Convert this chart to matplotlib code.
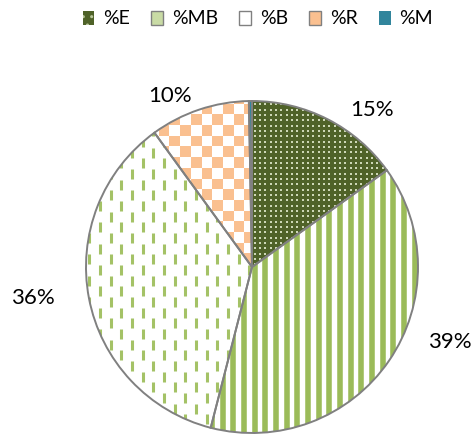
import matplotlib
matplotlib.use('Agg')
import matplotlib.pyplot as plt
import numpy as np
from matplotlib.collections import LineCollection
from matplotlib.colors import ListedColormap
from matplotlib.patches import Patch

# data (share of each class, %)
names = ['%E', '%MB', '%B', '%R', '%M']
values = [15.1, 38.9, 36.0, 9.7, 0.3]
# where Excel put the data labels (pixel coords of the reference, y down)
label_pos = [(372, 110), (450, 342), (33, 298), (170, 96), None]

W, H = 474, 434
cx, cy, rad = 252, H - 267, 166
unit = 32.0 / 3.0  # pattern cell size in pixels

matplotlib.rcParams['font.family'] = ['Lato', 'DejaVu Sans']

fig = plt.figure(figsize=(W / 100.0, H / 100.0), dpi=100)
ax = fig.add_axes([0, 0, 1, 1])

base_colors = ['#4f6228', 'white', 'white', 'white', '#31859c']
wedges, _ = ax.pie(values, colors=base_colors, startangle=90, counterclock=False,
                   center=(cx, cy), radius=rad, wedgeprops=dict(linewidth=0))

x0, x1 = cx - rad - 2, cx + rad + 2
y0, y1 = cy - rad - 2, cy + rad + 2

# %E : dark olive with light dots
gx, gy = np.meshgrid(np.arange(x0, x1, unit / 2), np.arange(y0, y1, unit / 2))
dots = ax.scatter(gx.ravel(), gy.ravel(), s=3.4, marker='s', color='#cdd7b6',
                  linewidths=0, zorder=2)
dots.set_clip_path(wedges[0])

# %MB : wide vertical stripes
xs = np.arange(x0, x1, unit)
segs = [[(x, y0), (x, y1)] for x in xs]
stripes = LineCollection(segs, colors='#9bbb59', linewidths=4.0, zorder=2)
ax.add_collection(stripes)
stripes.set_clip_path(wedges[1])

# %B : dashed vertical lines on white, columns offset by half a period
dash_segs = []
for i, x in enumerate(np.arange(x0, x1, unit)):
    start = y0 + (i % 2) * unit
    for y in np.arange(start, y1, 2 * unit):
        dash_segs.append([(x + unit / 2, y), (x + unit / 2, y + 10)])
dashes = LineCollection(dash_segs, colors='#a4c266', linewidths=2.2, zorder=2)
ax.add_collection(dashes)
dashes.set_clip_path(wedges[2])

# %R : peach checkerboard
ncol = int((x1 - x0) / unit) + 1
nrow = int((y1 - y0) / unit) + 1
ii, jj = np.indices((nrow, ncol))
board = (ii + jj) % 2
img = ax.imshow(board, cmap=ListedColormap(['white', '#fac090']), interpolation='nearest',
                extent=(x0, x0 + ncol * unit, y0, y0 + nrow * unit), origin='lower', zorder=2)
img.set_clip_path(wedges[3])

# outlines on top
edges, _ = ax.pie(values, colors=['none'] * len(values), startangle=90, counterclock=False,
                  center=(cx, cy), radius=rad,
                  wedgeprops=dict(linewidth=1.4, edgecolor='#808080'))
for e in edges:
    e.set_zorder(3)
    e.set_facecolor('none')

for pos, v in zip(label_pos, values):
    if pos is None:
        continue
    ax.text(pos[0], H - pos[1], '{:.0f}%'.format(v), ha='center', va='center',
            fontsize=16, color='black', zorder=4)

ax.set_xlim(0, W)
ax.set_ylim(0, H)
ax.set_aspect('equal')
ax.axis('off')

handles = [
    Patch(facecolor='#4f6228', edgecolor='#b9c79a', hatch='..', linewidth=0),
    Patch(facecolor='#c9dba5', edgecolor='#808080', linewidth=1.0),
    Patch(facecolor='white', edgecolor='#808080', linewidth=1.0),
    Patch(facecolor='#fac090', edgecolor='#808080', linewidth=1.0),
    Patch(facecolor='#31859c', edgecolor='#31859c', linewidth=0),
]
fig.legend(handles, names, loc='center', bbox_to_anchor=(0.544, 1 - 19.0 / H), ncol=5,
           frameon=False, fontsize=14, handlelength=0.6, handleheight=0.75,
           handletextpad=0.45, columnspacing=1.1, borderpad=0)

fig.savefig('out.png', dpi=100)
